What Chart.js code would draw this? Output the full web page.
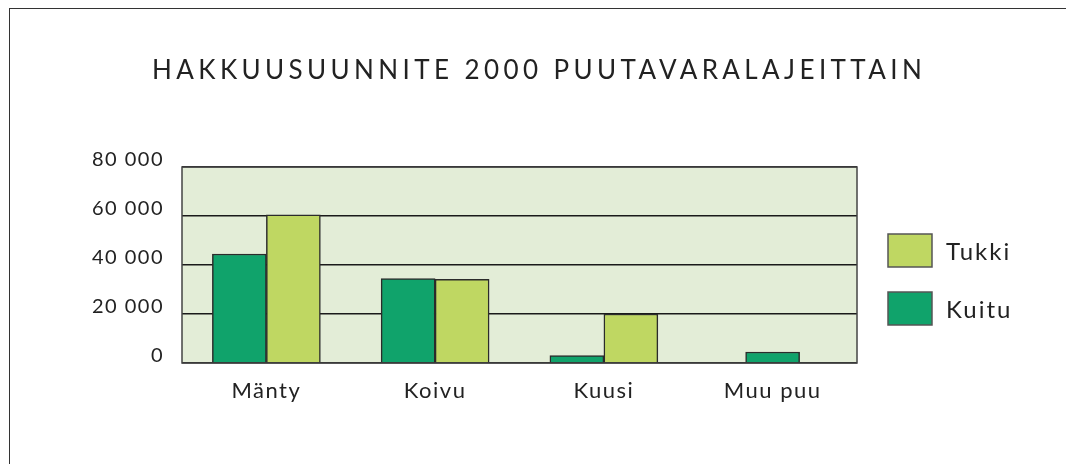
<!DOCTYPE html>
<html>
<head>
<meta charset="utf-8">
<script src="https://cdn.jsdelivr.net/npm/chart.js@4/dist/chart.umd.min.js"></script>
<style>
  html, body { margin: 0; padding: 0; background: #fff; }
  #wrap { position: relative; width: 1066px; height: 464px; }
  #frame { position: absolute; left: 9px; top: 8px; right: 0; bottom: 0;
           border-top: 1.5px solid #333; border-left: 1.5px solid #333; }
  canvas { position: absolute; left: 0; top: 0; }
</style>
</head>
<body>
<div id="wrap">
  <div id="frame"></div>
  <canvas id="chart" width="1066" height="464"></canvas>
</div>
<script>
const title = "HAKKUUSUUNNITE 2000 PUUTAVARALAJEITTAIN";
const categories = ["Mänty", "Koivu", "Kuusi", "Muu puu"];
const kuitu = [44500, 34500, 3000, 4500];
const tukki = [60500, 34200, 20000, null];
const yTicks = [0, 20000, 40000, 60000, 80000];

const FONT = "Lato, 'Open Sans', sans-serif";
const DARK = "#10a36b";
const LIGHT = "#bfd762";
const EDGE = "#2b2b2b";

function fmt(v) {
  return String(v).replace(/\B(?=(\d{3})+(?!\d))/g, " ");
}

// plot background + title + legend
const extras = {
  id: "extras",
  beforeDraw(chart) {
    const { ctx, chartArea: a } = chart;
    ctx.save();
    ctx.fillStyle = "#e3edd7";
    ctx.fillRect(a.left, a.top, a.right - a.left, a.bottom - a.top);
    ctx.restore();
    // wider tracking for the axis labels (Gill Sans look)
    ctx.letterSpacing = "1.5px";
  },
  afterDraw(chart) {
    const { ctx, chartArea: a } = chart;
    ctx.save();
    // frame of plot area
    ctx.strokeStyle = "#444";
    ctx.lineWidth = 1.5;
    ctx.strokeRect(a.left, a.top, a.right - a.left, a.bottom - a.top);

    // title, tracked out to span the same width as the original
    ctx.fillStyle = "#222";
    ctx.font = "26px " + FONT;
    ctx.textAlign = "left";
    ctx.textBaseline = "alphabetic";
    ctx.letterSpacing = "0px";
    const w0 = ctx.measureText(title).width;
    const sp = (770 - w0) / (title.length - 1);
    ctx.letterSpacing = sp.toFixed(2) + "px";
    ctx.fillText(title, 152, 79);

    // legend, Tukki on top
    const items = chart.data.datasets.slice().reverse();
    ctx.font = "24px " + FONT;
    ctx.letterSpacing = "2px";
    items.forEach((ds, i) => {
      const y = 234 + i * 58;
      ctx.fillStyle = ds.backgroundColor;
      ctx.fillRect(888, y, 44, 33);
      ctx.strokeStyle = "#555";
      ctx.lineWidth = 1.5;
      ctx.strokeRect(888, y, 44, 33);
      ctx.fillStyle = "#222";
      ctx.fillText(ds.label, 946, y + 26);
    });
    ctx.restore();
    ctx.letterSpacing = "0px";
  }
};

new Chart(document.getElementById("chart"), {
  type: "bar",
  data: {
    labels: categories,
    datasets: [
      { label: "Kuitu", data: kuitu, backgroundColor: DARK, borderColor: EDGE, borderWidth: 1.5 },
      { label: "Tukki", data: tukki, backgroundColor: LIGHT, borderColor: EDGE, borderWidth: 1.5 }
    ]
  },
  options: {
    responsive: false,
    animation: false,
    layout: { padding: { left: 10, right: 209, top: 167, bottom: 61 } },
    datasets: { bar: { barThickness: 54, skipNull: true } },
    plugins: {
      legend: { display: false },
      title: { display: false },
      tooltip: { enabled: false }
    },
    scales: {
      x: {
        grid: { display: false, drawTicks: false },
        border: { display: false },
        ticks: { color: "#222", font: { family: FONT, size: 22 }, padding: 15 },
        afterFit(s) { s.height = 40; }
      },
      y: {
        min: 0,
        max: 80000,
        afterBuildTicks(s) { s.ticks = yTicks.map(v => ({ value: v })); },
        grid: { color: "#1a1a1a", lineWidth: 1.5, drawTicks: false },
        border: { display: false },
        ticks: {
          color: "#222",
          font: { family: FONT, size: 20 },
          padding: 18,
          labelOffset: -7,
          callback: v => fmt(v)
        },
        afterFit(s) { s.width = 172; }
      }
    }
  },
  plugins: [extras]
});
</script>
</body>
</html>
